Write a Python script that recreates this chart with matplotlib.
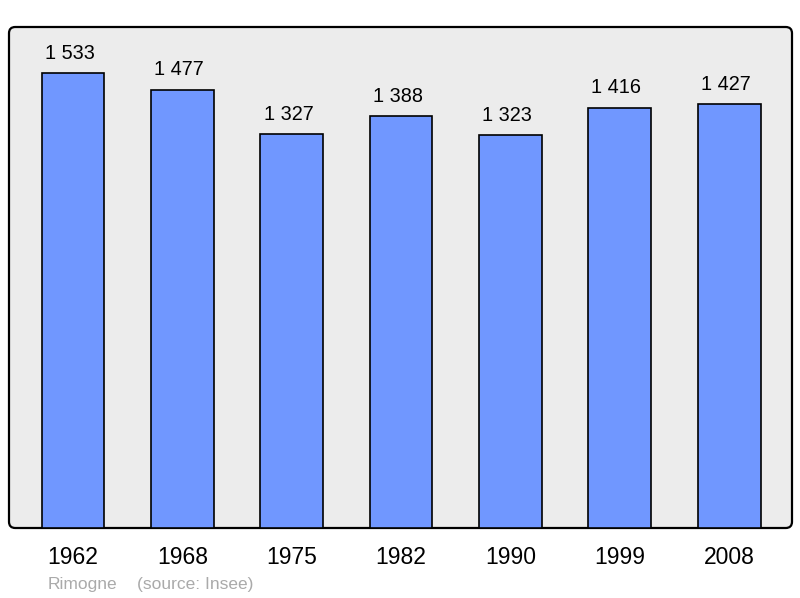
import matplotlib
matplotlib.use("Agg")
import matplotlib.pyplot as plt
from matplotlib.patches import FancyBboxPatch

years = ["1962", "1968", "1975", "1982", "1990", "1999", "2008"]
population = [1533, 1477, 1327, 1388, 1323, 1416, 1427]
value_labels = ["1 533", "1 477", "1 327", "1 388", "1 323", "1 416", "1 427"]
town = "Rimogne"
source = "(source: Insee)"

plt.rcParams['font.family'] = ['Liberation Sans', 'DejaVu Sans']

fig = plt.figure(figsize=(8, 5.98), dpi=100)
ax = fig.add_axes([9/800, 70/598, 783/800, 501/598])
ax.set_facecolor('none')
for s in ax.spines.values():
    s.set_visible(False)

frame = FancyBboxPatch((0, 0), 1, 1, boxstyle="round,pad=0,rounding_size=0.008",
                       transform=ax.transAxes, facecolor='#ececec', edgecolor='black',
                       linewidth=1.6, zorder=0, clip_on=False, mutation_aspect=783/501)
ax.add_patch(frame)

x = list(range(len(years)))
ax.bar(x, population, width=0.575, color='#7097ff', edgecolor='black', linewidth=1.2, zorder=2)
for xi, v, lab in zip(x, population, value_labels):
    ax.text(xi - 0.03, v + 35, lab, ha='center', va='bottom', fontsize=14.3, color='black')

ax.set_xlim(-0.585, 6.575)
ax.set_ylim(0, 1688)
ax.set_yticks([])
ax.set_xticks(x)
ax.set_xticklabels(years, fontsize=16.5)
ax.tick_params(axis='x', length=0, pad=13)

fig.text(48/800, 1 - 584/598, town, fontsize=12.5, color='#aaaaaa', va='center', ha='left')
fig.text(137/800, 1 - 584/598, source, fontsize=12.5, color='#aaaaaa', va='center', ha='left')

fig.savefig('out.png', dpi=100)
